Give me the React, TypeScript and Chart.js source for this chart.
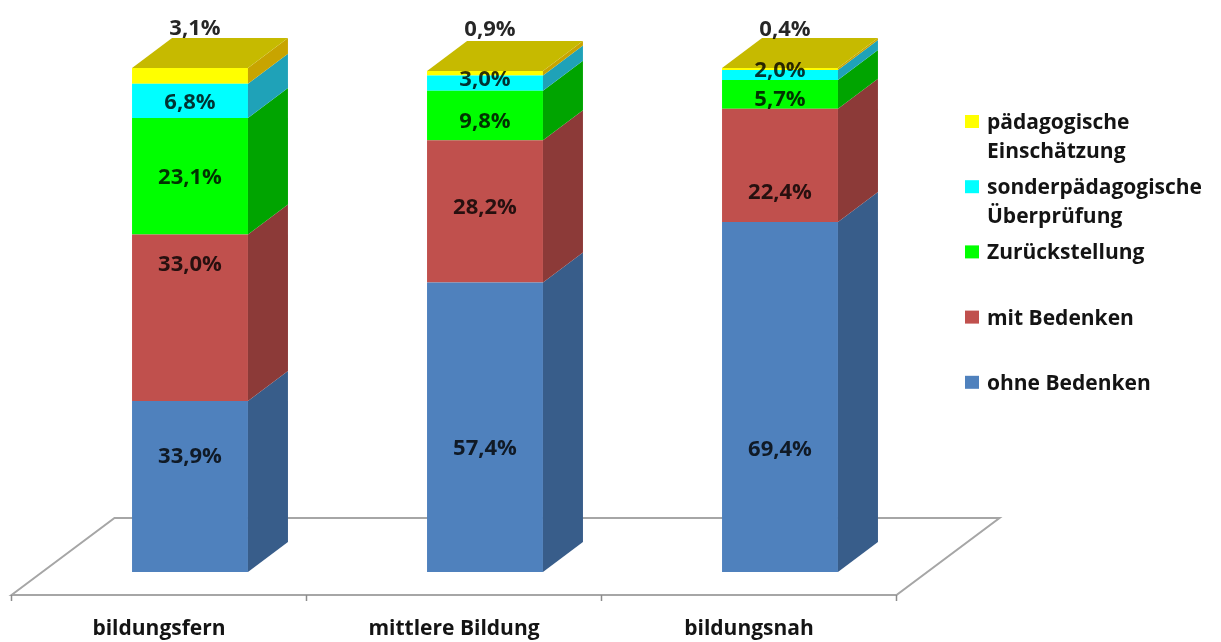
import React, { useEffect, useRef } from "react";
import { Chart, registerables } from "chart.js";

Chart.register(...registerables);

// Categories (x axis)
const categories = ["bildungsfern", "mittlere Bildung", "bildungsnah"];

// Series values in percent, stacked bottom to top
const ohneBedenken = [33.9, 57.4, 69.4];
const mitBedenken = [33.0, 28.2, 22.4];
const zurueckstellung = [23.1, 9.8, 5.7];
const sonderpaedagogischeUeberpruefung = [6.8, 3.0, 2.0];
const paedagogischeEinschaetzung = [3.1, 0.9, 0.4];

// Legend names, one entry per line of text
const seriesNames = [
  ["ohne Bedenken"],
  ["mit Bedenken"],
  ["Zurückstellung"],
  ["sonderpädagogische", "Überprüfung"],
  ["pädagogische", "Einschätzung"],
];

// Axis value at which each value label is placed
const labelAt = [
  [22.8, 24.4, 24.2],
  [60.9, 72.2, 75.1],
  [78.1, 89.2, 93.6],
  [93.0, 97.5, 99.3],
  [107.6, 107.5, 107.5],
];

const seriesValues = [
  ohneBedenken,
  mitBedenken,
  zurueckstellung,
  sonderpaedagogischeUeberpruefung,
  paedagogischeEinschaetzung,
];

const frontColors = ["#4F81BD", "#C0504D", "#00FF00", "#00FFFF", "#FFFF00"];
const sideColors = ["#385D8A", "#8C3A38", "#00A400", "#1FA2B8", "#C8A400"];
const topColor = "#C6BA00";

// 3D projection: receding vector of a bar, and of the floor
const BAR_DEPTH = { dx: 40, dy: -30 };
const FLOOR_FRONT = { dx: -31, dy: 23 };
const FLOOR_DEPTH = { dx: 103, dy: -77 };

const TEXT_FONT = 'bold 21px "Open Sans"';
const VALUE_FONT = 'bold 22px "Open Sans"';

const fmt = (v: number) => v.toFixed(1).replace(".", ",") + "%";

const bar3dPlugin = {
  id: "bar3d",
  beforeDatasetsDraw(chart: any) {
    const { ctx } = chart;
    const xs = chart.scales.x;
    const ys = chart.scales.y;
    const n = categories.length;
    const step = xs.getPixelForValue(1) - xs.getPixelForValue(0);
    const base = ys.getPixelForValue(0);
    const left = xs.getPixelForValue(0) - step / 2 + FLOOR_FRONT.dx;
    const right = xs.getPixelForValue(n - 1) + step / 2 + FLOOR_FRONT.dx;
    const fy = base + FLOOR_FRONT.dy;

    ctx.save();
    ctx.strokeStyle = "#A6A6A6";
    ctx.lineWidth = 2;
    ctx.lineJoin = "miter";
    ctx.beginPath();
    ctx.moveTo(left, fy);
    ctx.lineTo(left + FLOOR_DEPTH.dx, fy + FLOOR_DEPTH.dy);
    ctx.lineTo(right + FLOOR_DEPTH.dx, fy + FLOOR_DEPTH.dy);
    ctx.lineTo(right, fy);
    ctx.closePath();
    ctx.stroke();

    // tick marks between categories on the front edge
    ctx.lineWidth = 1.5;
    ctx.strokeStyle = "#8C8C8C";
    for (let i = 0; i <= n; i++) {
      const tx = left + i * step;
      ctx.beginPath();
      ctx.moveTo(tx, fy);
      ctx.lineTo(tx, fy + 6);
      ctx.stroke();
    }

    // category labels
    ctx.fillStyle = "#141414";
    ctx.font = TEXT_FONT;
    ctx.textAlign = "center";
    ctx.textBaseline = "middle";
    categories.forEach((c, i) => {
      ctx.fillText(c, left + (i + 0.5) * step, fy + 34);
    });
    ctx.restore();
  },
  afterDatasetsDraw(chart: any) {
    const { ctx } = chart;
    const ys = chart.scales.y;
    const nSets = chart.data.datasets.length;
    ctx.save();

    // side faces
    for (let d = 0; d < nSets; d++) {
      const meta = chart.getDatasetMeta(d);
      meta.data.forEach((el: any) => {
        const { x, y, base, width } = el.getProps(["x", "y", "base", "width"], true);
        const r = x + width / 2;
        ctx.fillStyle = sideColors[d];
        ctx.beginPath();
        ctx.moveTo(r, base);
        ctx.lineTo(r, y);
        ctx.lineTo(r + BAR_DEPTH.dx, y + BAR_DEPTH.dy);
        ctx.lineTo(r + BAR_DEPTH.dx, base + BAR_DEPTH.dy);
        ctx.closePath();
        ctx.fill();
      });
    }

    // top faces
    const topMeta = chart.getDatasetMeta(nSets - 1);
    topMeta.data.forEach((el: any) => {
      const { x, y, width } = el.getProps(["x", "y", "width"], true);
      const l = x - width / 2;
      const r = x + width / 2;
      ctx.fillStyle = topColor;
      ctx.beginPath();
      ctx.moveTo(l, y);
      ctx.lineTo(r, y);
      ctx.lineTo(r + BAR_DEPTH.dx, y + BAR_DEPTH.dy);
      ctx.lineTo(l + BAR_DEPTH.dx, y + BAR_DEPTH.dy);
      ctx.closePath();
      ctx.fill();
    });

    // value labels
    ctx.font = VALUE_FONT;
    ctx.textAlign = "center";
    ctx.textBaseline = "middle";
    for (let d = 0; d < nSets; d++) {
      const meta = chart.getDatasetMeta(d);
      const ds = chart.data.datasets[d];
      meta.data.forEach((el: any, i: number) => {
        const { x } = el.getProps(["x"], true);
        const ly = ys.getPixelForValue(labelAt[d][i]);
        const above = d === nSets - 1;
        ctx.fillStyle = above ? "rgba(0,0,0,0.85)" : "rgba(0,0,0,0.8)";
        ctx.fillText(fmt(ds.data[i]), x + (above ? BAR_DEPTH.dx / 8 : 0), ly);
      });
    }
    ctx.restore();
  },
  afterDraw(chart: any) {
    const { ctx } = chart;
    const ds = chart.data.datasets;
    const boxX = 965;
    const textX = 987;
    const firstY = 122;
    const entryGap = 65.2;
    const lineGap = 29;
    ctx.save();
    ctx.font = TEXT_FONT;
    ctx.textAlign = "left";
    ctx.textBaseline = "middle";
    for (let k = 0; k < ds.length; k++) {
      const d = ds.length - 1 - k;
      const cy = firstY + k * entryGap;
      ctx.fillStyle = ds[d].backgroundColor;
      ctx.fillRect(boxX, cy - 7, 14, 13);
      ctx.fillStyle = "#141414";
      seriesNames[d].forEach((line, j) => {
        ctx.fillText(line, textX, cy + 1 + j * lineGap);
      });
    }
    ctx.restore();
  },
};

export default function App() {
  const canvasRef = useRef<HTMLCanvasElement | null>(null);

  useEffect(() => {
    if (!canvasRef.current) return;
    const chart = new Chart(canvasRef.current, {
      type: "bar",
      data: {
        labels: categories,
        datasets: seriesValues.map((vals, d) => ({
          label: seriesNames[d].join(" "),
          data: vals,
          backgroundColor: frontColors[d],
          borderWidth: 0,
          categoryPercentage: 1,
          barPercentage: 0.393,
        })),
      },
      options: {
        responsive: false,
        animation: false,
        layout: { padding: { left: 42.5, right: 293.5, top: 67.5, bottom: 70 } },
        plugins: {
          legend: { display: false },
          tooltip: { enabled: false },
        },
        scales: {
          x: { stacked: true, display: false },
          y: { stacked: true, display: false, min: 0, max: 100 },
        },
      },
      plugins: [bar3dPlugin],
    });
    return () => chart.destroy();
  }, []);

  return (
    <div style={{ position: "absolute", left: 0, top: 0, width: 1221, height: 642, background: "#FFFFFF" }}>
      <canvas ref={canvasRef} width={1221} height={642} />
    </div>
  );
}
